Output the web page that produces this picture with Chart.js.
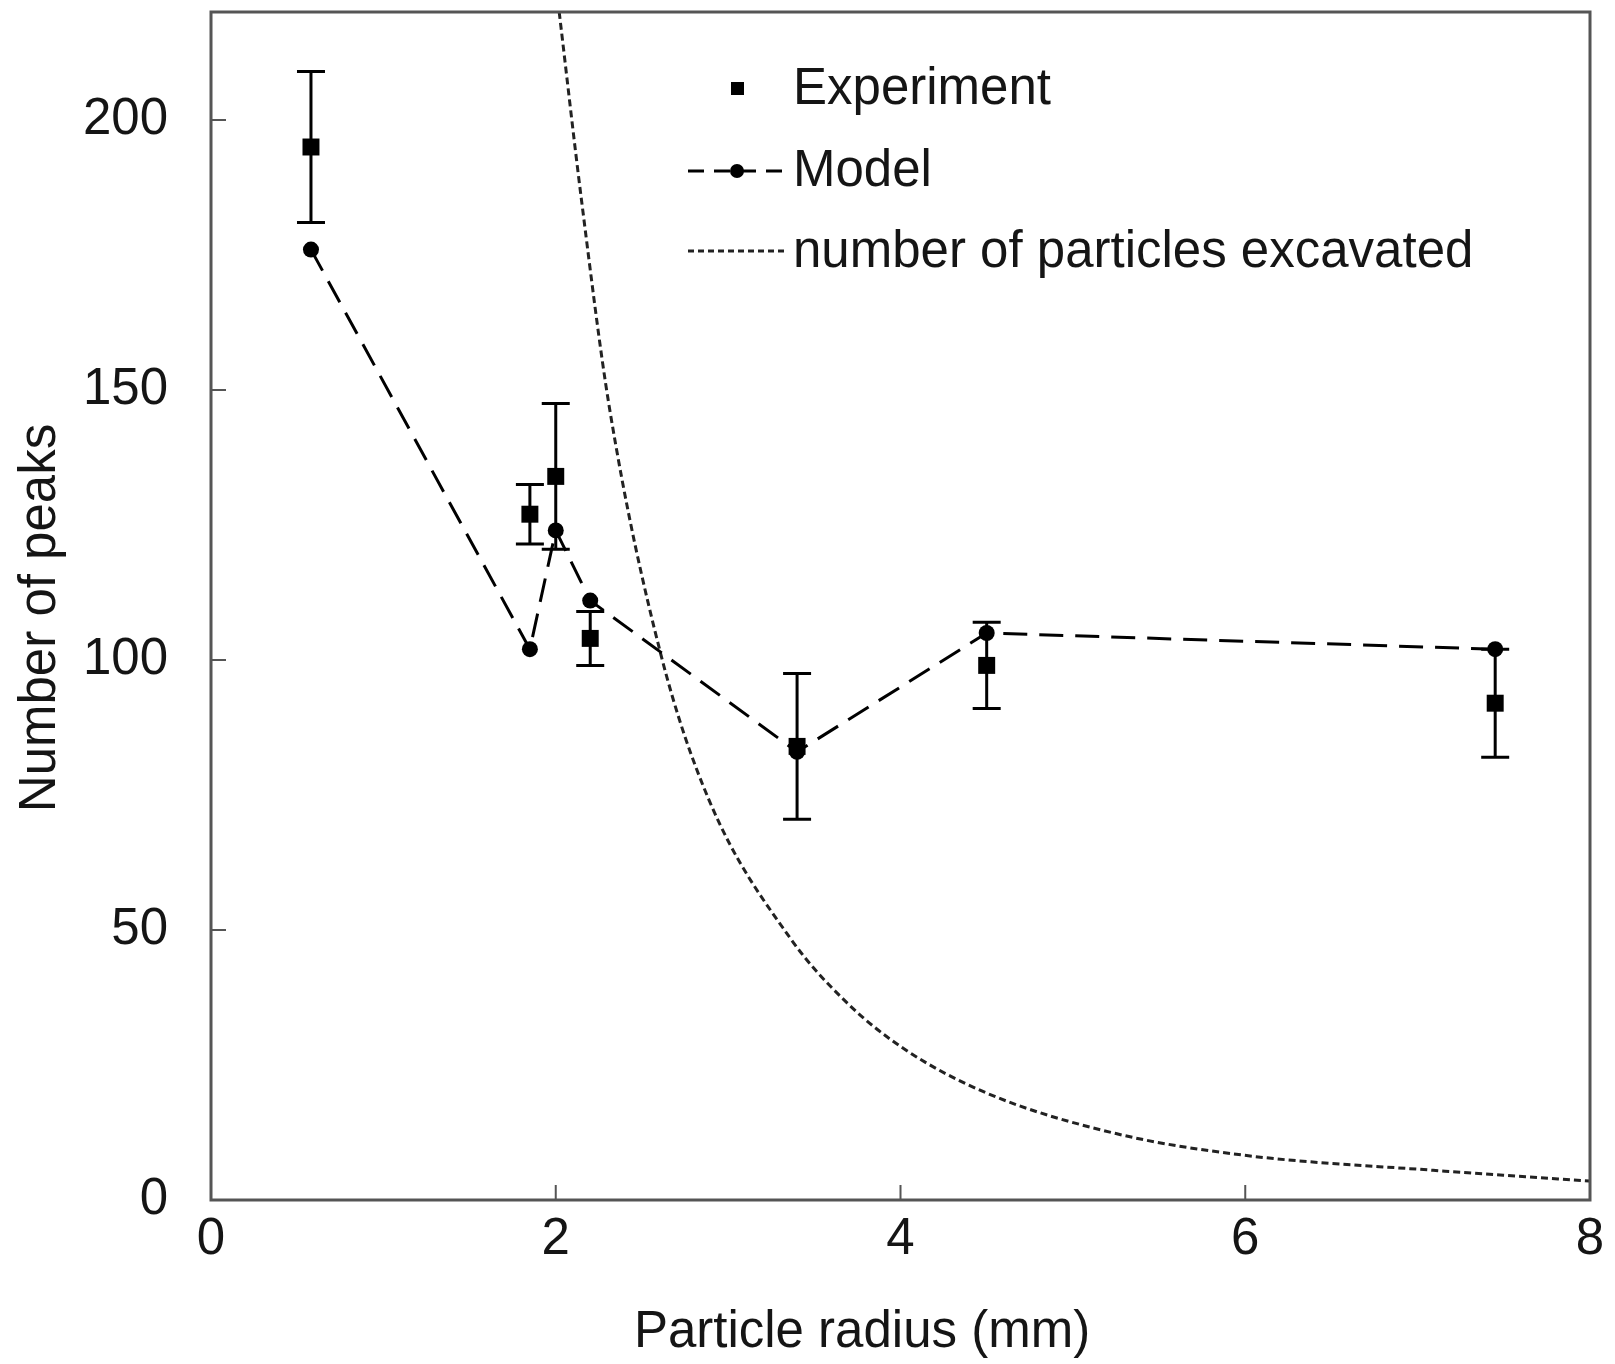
<!DOCTYPE html>
<html>
<head>
<meta charset="utf-8">
<script src="https://cdn.jsdelivr.net/npm/chart.js@4.4.1/dist/chart.umd.min.js"></script>
<style>
  html, body { margin: 0; padding: 0; background: #fff; }
  #chart { display: block; }
</style>
</head>
<body>
<canvas id="chart" width="1615" height="1364"></canvas>
<script>
// Particle radius (mm) of each measured grain size
const radius = [0.58, 1.85, 2.0, 2.2, 3.4, 4.5, 7.45];
// measured number of peaks and error bar half-heights
const experiment = [195, 127, 134, 104, 84, 99, 92];
const experimentErr = [14, 5.5, 13.5, 5, 13.5, 8, 10];
// model prediction
const model = [176, 102, 124, 111, 83, 105, 102];

// dotted curve, read along its path
const excavatedR = [2.02, 2.15, 2.31, 2.61, 2.89, 3.36, 3.69, 4.02, 4.5, 5.25, 5.99, 7.09, 8.0];
const excavatedN = [220, 185, 147, 101, 74, 48.5, 36.5, 28, 19.8, 12.3, 8.3, 5.5, 3.5];

const xTicks = [0, 2, 4, 6, 8];
const yTicks = [0, 50, 100, 150, 200];

const FONT = "'Liberation Sans', Arial, sans-serif";
const FS = 51;
const TEXT = '#151515';
const FRAME = '#555';

const toPts = (xs, ys) => xs.map((x, i) => ({ x: x, y: ys[i] }));

// error bars, drawn under the markers
const errorBars = {
  id: 'errorBars',
  beforeDatasetsDraw(chart) {
    const { ctx, scales: { x, y } } = chart;
    ctx.save();
    ctx.strokeStyle = '#000';
    ctx.lineWidth = 3;
    radius.forEach((r, i) => {
      const px = x.getPixelForValue(r);
      const top = y.getPixelForValue(experiment[i] + experimentErr[i]);
      const bot = y.getPixelForValue(experiment[i] - experimentErr[i]);
      ctx.beginPath();
      ctx.moveTo(px, top); ctx.lineTo(px, bot);
      ctx.moveTo(px - 14, top); ctx.lineTo(px + 14, top);
      ctx.moveTo(px - 14, bot); ctx.lineTo(px + 14, bot);
      ctx.stroke();
    });
    ctx.restore();
  }
};

// box frame with inward ticks, plus the axis titles
const frame = {
  id: 'frame',
  afterDraw(chart) {
    const { ctx, chartArea: a, scales: { x, y } } = chart;
    ctx.save();
    ctx.strokeStyle = FRAME;
    ctx.lineWidth = 3;
    ctx.strokeRect(a.left, a.top, a.right - a.left, a.bottom - a.top);
    ctx.lineWidth = 2;
    ctx.beginPath();
    xTicks.forEach(v => {
      const px = x.getPixelForValue(v);
      ctx.moveTo(px, a.bottom); ctx.lineTo(px, a.bottom - 15);
    });
    yTicks.forEach(v => {
      const py = y.getPixelForValue(v);
      ctx.moveTo(a.left, py); ctx.lineTo(a.left + 15, py);
    });
    ctx.stroke();

    ctx.fillStyle = TEXT;
    ctx.font = FS + 'px ' + FONT;
    ctx.textAlign = 'center';
    ctx.textBaseline = 'middle';
    ctx.fillText('Particle radius (mm)', 862, 1333);
    ctx.translate(41, 618);
    ctx.rotate(-Math.PI / 2);
    ctx.fillText('Number of peaks', 0, 0);
    ctx.restore();
  }
};

// legend in the upper part of the plot
const legendBox = {
  id: 'legendBox',
  afterDraw(chart) {
    const ctx = chart.ctx;
    const rows = [88, 170, 251];
    ctx.save();
    ctx.fillStyle = TEXT;
    ctx.font = FS + 'px ' + FONT;
    ctx.textBaseline = 'middle';
    ctx.fillText('Experiment', 793, rows[0] + 2);
    ctx.fillText('Model', 793, rows[1] + 2);
    ctx.fillText('number of particles excavated', 793, rows[2] + 2);

    ctx.fillStyle = '#000';
    ctx.fillRect(731, rows[0] - 6, 13, 13);

    ctx.strokeStyle = '#000';
    ctx.lineWidth = 3;
    ctx.setLineDash([16, 10]);
    ctx.beginPath();
    ctx.moveTo(688, rows[1] + 1); ctx.lineTo(788, rows[1] + 1);
    ctx.stroke();
    ctx.setLineDash([]);
    ctx.beginPath();
    ctx.arc(737, rows[1] + 1, 7, 0, Math.PI * 2);
    ctx.fill();

    ctx.strokeStyle = '#222';
    ctx.setLineDash([6, 4]);
    ctx.beginPath();
    ctx.moveTo(688, rows[2]); ctx.lineTo(786, rows[2]);
    ctx.stroke();
    ctx.restore();
  }
};

function noPad(s) {
  s.paddingTop = 0; s.paddingBottom = 0; s.paddingLeft = 0; s.paddingRight = 0;
}

new Chart(document.getElementById('chart'), {
  type: 'scatter',
  data: {
    datasets: [
      {
        label: 'Experiment',
        data: toPts(radius, experiment),
        showLine: false,
        pointStyle: 'rect',
        pointRadius: 12,
        backgroundColor: '#000',
        borderColor: '#000',
        borderWidth: 0
      },
      {
        label: 'Model',
        data: toPts(radius, model),
        showLine: true,
        borderColor: '#000',
        borderWidth: 3,
        borderDash: [24, 12],
        pointStyle: 'circle',
        pointRadius: 8,
        backgroundColor: '#000',
        pointBorderWidth: 0
      },
      {
        label: 'number of particles excavated',
        data: toPts(excavatedR, excavatedN),
        showLine: true,
        cubicInterpolationMode: 'monotone',
        borderColor: '#222',
        borderWidth: 3,
        borderDash: [7, 4],
        pointRadius: 0
      }
    ]
  },
  options: {
    responsive: false,
    animation: false,
    layout: { padding: { top: 10, right: 25, left: 0, bottom: 0 } },
    plugins: {
      legend: { display: false },
      tooltip: { enabled: false }
    },
    scales: {
      x: {
        type: 'linear',
        min: 0,
        max: 8,
        afterFit(s) { s.height = 164; noPad(s); },
        afterBuildTicks(s) { s.ticks = xTicks.map(v => ({ value: v })); },
        grid: { display: false, drawTicks: false },
        border: { display: false },
        ticks: { color: TEXT, padding: 9, font: { family: FONT, size: FS } },
        title: { display: false }
      },
      y: {
        type: 'linear',
        min: 0,
        max: 220,
        afterFit(s) { s.width = 211; noPad(s); },
        afterBuildTicks(s) { s.ticks = yTicks.map(v => ({ value: v })); },
        grid: { display: false, drawTicks: false },
        border: { display: false },
        ticks: { color: TEXT, padding: 43, font: { family: FONT, size: FS } },
        title: { display: false }
      }
    }
  },
  plugins: [errorBars, frame, legendBox]
});
</script>
</body>
</html>
